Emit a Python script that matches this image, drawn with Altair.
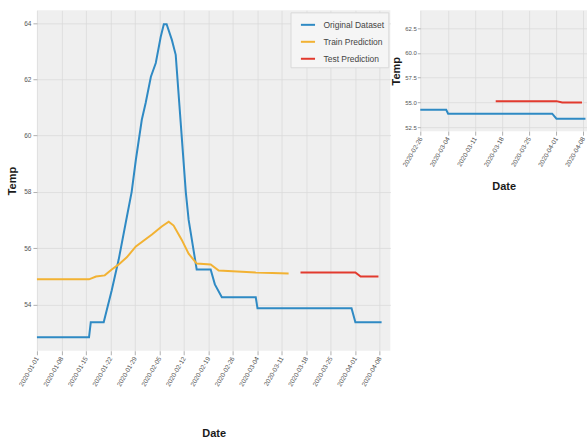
import altair as alt
import pandas as pd

# Day offsets from the first observation, and temperatures for each series
start = pd.Timestamp("2020-01-01")

orig_day = [0, 14.9, 15.4, 19.1, 21.4, 23.4, 25.4, 27.1, 28.3, 30.0, 31.1, 32.6, 34.0,
            35.4, 36.3, 37.1, 38.6, 39.7, 42.6, 43.4, 45.7, 49.7, 50.9, 52.9, 62.6,
            63.1, 90.0, 91.1, 98.6]
orig_temp = [52.83, 52.83, 53.36, 53.36, 54.5, 55.6, 56.9, 58.0, 59.14, 60.56, 61.16,
             62.09, 62.58, 63.5, 63.96, 63.96, 63.4, 62.87, 57.97, 57.0, 55.24, 55.24,
             54.71, 54.25, 54.25, 53.86, 53.86, 53.36, 53.36]

train_day = [0, 14.9, 16.9, 19.4, 21.4, 23.4, 25.7, 28.3, 32.9, 35.7, 37.7, 39.1, 41.4,
             43.4, 45.7, 49.7, 52.0, 62.6, 72.0]
train_temp = [54.89, 54.89, 54.99, 55.03, 55.24, 55.42, 55.67, 56.06, 56.48, 56.77, 56.94,
              56.8, 56.3, 55.8, 55.45, 55.42, 55.2, 55.13, 55.10]

test_day = [75.4, 91.1, 92.6, 97.7]
test_temp = [55.13, 55.13, 54.99, 54.99]

series_names = ["Original Dataset", "Train Prediction", "Test Prediction"]
series_colors = ["#2f8ac4", "#f2b233", "#e23a2e"]

# Weekly tick dates on the time axis
tick_dates = ["2020-01-01", "2020-01-08", "2020-01-15", "2020-01-22", "2020-01-29",
              "2020-02-05", "2020-02-12", "2020-02-19", "2020-02-26", "2020-03-04",
              "2020-03-11", "2020-03-18", "2020-03-25", "2020-04-01", "2020-04-08"]

main_temp_ticks = [54, 56, 58, 60, 62, 64]
zoom_temp_ticks = [52.5, 55.0, 57.5, 60.0, 62.5]

main_day_range = [0, 101.1]
zoom_day_range = [55.9, 99.0]


def frame(days, temps, name):
    stamps = start + pd.to_timedelta(days, unit="D")
    return pd.DataFrame({
        "date": stamps.strftime("%Y-%m-%dT%H:%M:%S"),
        "temp": temps,
        "series": name,
    })


df = pd.concat([
    frame(orig_day, orig_temp, series_names[0]),
    frame(train_day, train_temp, series_names[1]),
    frame(test_day, test_temp, series_names[2]),
], ignore_index=True)

# The close-up panel shows the observed series against the test prediction only
df_zoom = df[df["series"] != series_names[1]]


def dt(ts):
    ts = pd.Timestamp(ts)
    return alt.DateTime(year=ts.year, month=ts.month, date=ts.day,
                        hours=ts.hour, minutes=ts.minute)


def day_dt(d):
    return dt(start + pd.Timedelta(days=d))


tick_values = [dt(t) for t in tick_dates]


def x_enc(day_range, title_pad):
    return alt.X(
        "date:T",
        title="Date",
        scale=alt.Scale(domain=[day_dt(day_range[0]), day_dt(day_range[1])], nice=False),
        axis=alt.Axis(values=tick_values, format="%Y-%m-%d", labelAngle=300,
                      labelFontSize=6.5, titlePadding=title_pad, labelPadding=2,
                      tickSize=4, labelOverlap=False),
    )


main = alt.Chart(df).mark_line(strokeWidth=2).encode(
    x=x_enc(main_day_range, 40),
    y=alt.Y("temp:Q", title="Temp",
            scale=alt.Scale(domain=[52.35, 64.45], nice=False, zero=False),
            axis=alt.Axis(values=main_temp_ticks, format="d", labelFontSize=6.5,
                          tickSize=4, labelPadding=2, titlePadding=6)),
    color=alt.Color("series:N",
                    scale=alt.Scale(domain=series_names, range=series_colors),
                    legend=alt.Legend(orient="top-right", title=None, symbolType="stroke",
                                      symbolSize=200, symbolStrokeWidth=2,
                                      symbolOffset=5, labelOffset=7,
                                      labelFontSize=8.5, labelColor="#444444",
                                      rowPadding=4, padding=4, offset=2,
                                      fillColor="#f5f5f5", strokeColor="#d9d9d9")),
).properties(width=354, height=341)

zoom = alt.Chart(df_zoom).mark_line(strokeWidth=2, clip=True).encode(
    x=x_enc(zoom_day_range, 13),
    y=alt.Y("temp:Q", title="Temp",
            scale=alt.Scale(domain=[52.1, 64.3], nice=False, zero=False),
            axis=alt.Axis(values=zoom_temp_ticks, format=".1f", labelFontSize=6,
                          tickSize=3, labelPadding=1, titlePadding=3)),
    color=alt.Color("series:N",
                    scale=alt.Scale(domain=series_names, range=series_colors),
                    legend=None),
).properties(width=167, height=121)

chart = alt.hconcat(main, zoom, spacing=0).resolve_scale(
    x="independent", y="independent", color="independent"
).properties(
    padding={"left": 6, "top": 10, "right": 0, "bottom": 0},
    background="white",
).configure(
    font="Liberation Sans",
).configure_view(
    fill="#efefef", stroke=None,
).configure_axis(
    domain=False,
    gridColor="#dadada",
    gridWidth=0.8,
    tickColor="#b0b0b0",
    labelColor="#555555",
    titleFontSize=11,
    titleFontWeight="bold",
    titleColor="#1a1a1a",
)

chart.save("out.html", embed_options={"renderer": "svg", "actions": False})
